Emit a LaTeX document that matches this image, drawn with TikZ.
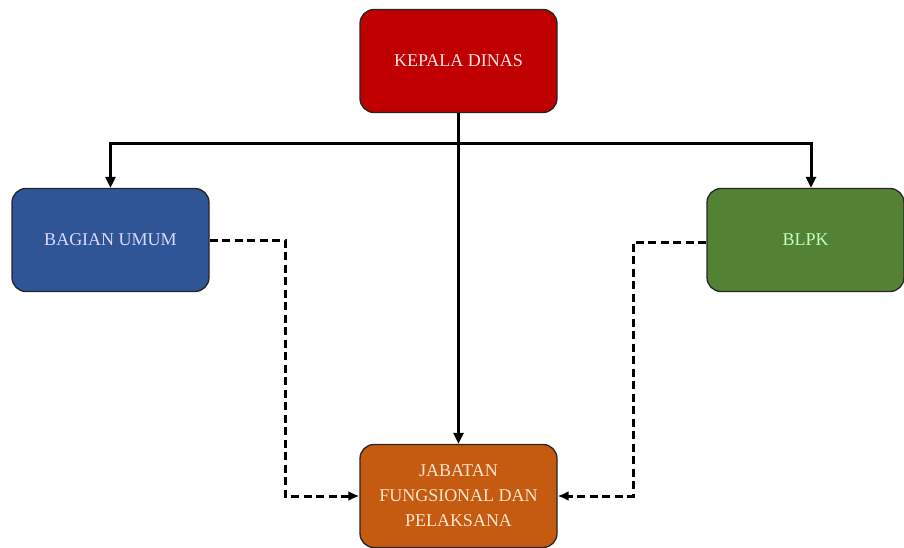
\documentclass[tikz,border=0pt]{standalone}
\usepackage{fontspec}
\setmainfont{Liberation Serif}
\usetikzlibrary{arrows.meta}
\definecolor{cred}{HTML}{C00000}
\definecolor{cblue}{HTML}{2F5597}
\definecolor{cgreen}{HTML}{548235}
\definecolor{corange}{HTML}{C55A11}
\tikzset{
  box/.style={draw=black!85, line width=1.3pt, rounded corners=14pt, minimum width=197pt, minimum height=103pt, align=center, font=\fontsize{18}{25}\selectfont, inner sep=2pt},
  solidarr/.style={line width=3pt, -{Triangle[length=11pt,width=10pt]}},
  dasharr/.style={line width=3pt, dash pattern=on 8pt off 4.5pt, -{Latex[length=11pt,width=10pt]}},
}
\begin{document}
\begin{tikzpicture}[x=1pt,y=-1pt]
\useasboundingbox (0,0) rectangle (904,548);
\node[box, fill=cred, text=red!10] (kd) at (458.5,61) {KEPALA DINAS};
\node[box, fill=cblue, text=blue!15] (bu) at (110.5,240) {BAGIAN UMUM};
\node[box, fill=cgreen, text=green!25!white] (bl) at (805.5,240) {BLPK};
\node[box, fill=corange, text=orange!20!white] (jf) at (458.5,496) {JABATAN\\FUNGSIONAL DAN\\PELAKSANA};
\coordinate (hl) at (110.5,144);
\coordinate (hr) at (811,144);
\draw[line width=3pt] (kd.south) -- (kd.south |- hl);
\draw[solidarr] (kd.south |- hl) -- (hl) -- (bu.north);
\draw[solidarr] (kd.south |- hl) -- (hr) -- (hr |- bl.north);
\draw[solidarr] (kd.south) -- (jf.north);
\coordinate (dl) at (285,240);
\coordinate (dr) at (633,242);
\draw[dasharr] (bu.east) -- (dl) -- (dl |- jf.west) -- (jf.west);
\draw[dasharr] (bl.west |- dr) -- (dr) -- (dr |- jf.east) -- (jf.east);
\end{tikzpicture}
\end{document}
